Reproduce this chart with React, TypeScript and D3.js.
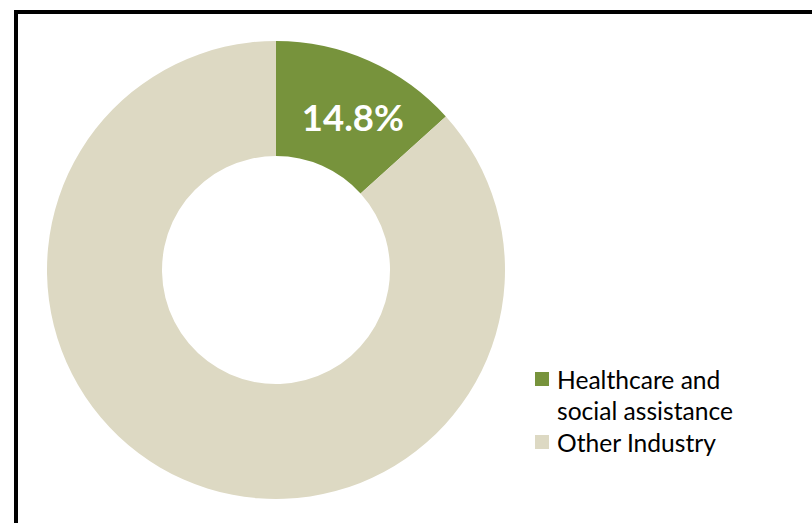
import React from "react";
import * as d3 from "d3";

const categories = ["Healthcare and social assistance", "Other Industry"];
// slice shares as drawn in the picture
const values = [13.3, 86.7];
// labelled value
const labelValues = [14.8, 85.2];
const colors = ["#77933C", "#DDD9C3"];
const legendLines = [["Healthcare and", "social assistance"], ["Other Industry"]];
const labelText = "14.8%";

export default function App() {
  const W = 812, H = 523;
  const cx = 276, cy = 270, rOuter = 229, rInner = 114;
  const pie = d3.pie<number>().sort(null).value((d) => d)(values);
  const labelPie = d3.pie<number>().sort(null).value((d) => d)(labelValues);
  const arc = d3.arc<d3.PieArcDatum<number>>().innerRadius(rInner).outerRadius(rOuter);
  const font = "Lato, 'Open Sans', sans-serif";
  const legendX = 535, legendY0 = 379, lineH = 31.5;
  const [lx, ly] = arc.centroid(labelPie[0]);
  let lineIdx = 0;
  return (
    <svg width={W} height={H} style={{ position: "absolute", left: 0, top: 0, background: "#fff" }}>
      <rect x={16} y={12} width={W + 20} height={H + 20} fill="#fff" stroke="#000" strokeWidth={4} />
      <g transform={`translate(${cx},${cy})`}>
        {pie.map((p, i) => (
          <path key={categories[i]} d={arc(p) || ""} fill={colors[i]} />
        ))}
        <text
          x={lx}
          y={ly}
          textAnchor="middle"
          dominantBaseline="central"
          fill="#fff"
          fontFamily={font}
          fontWeight="bold"
          fontSize={36.5}
        >
          {labelText}
        </text>
      </g>
      <g>
        {legendLines.map((lines, i) => {
          const startIdx = lineIdx;
          lineIdx += lines.length;
          const y = legendY0 + startIdx * lineH;
          return (
            <g key={categories[i]}>
              <rect x={legendX} y={y - 7} width={14} height={14} fill={colors[i]} />
              {lines.map((l, j) => (
                <text
                  key={j}
                  x={557}
                  y={y + j * lineH}
                  dominantBaseline="central"
                  fontFamily={font}
                  fontSize={24.6}
                  fill="#000"
                >
                  {l}
                </text>
              ))}
            </g>
          );
        })}
      </g>
    </svg>
  );
}
